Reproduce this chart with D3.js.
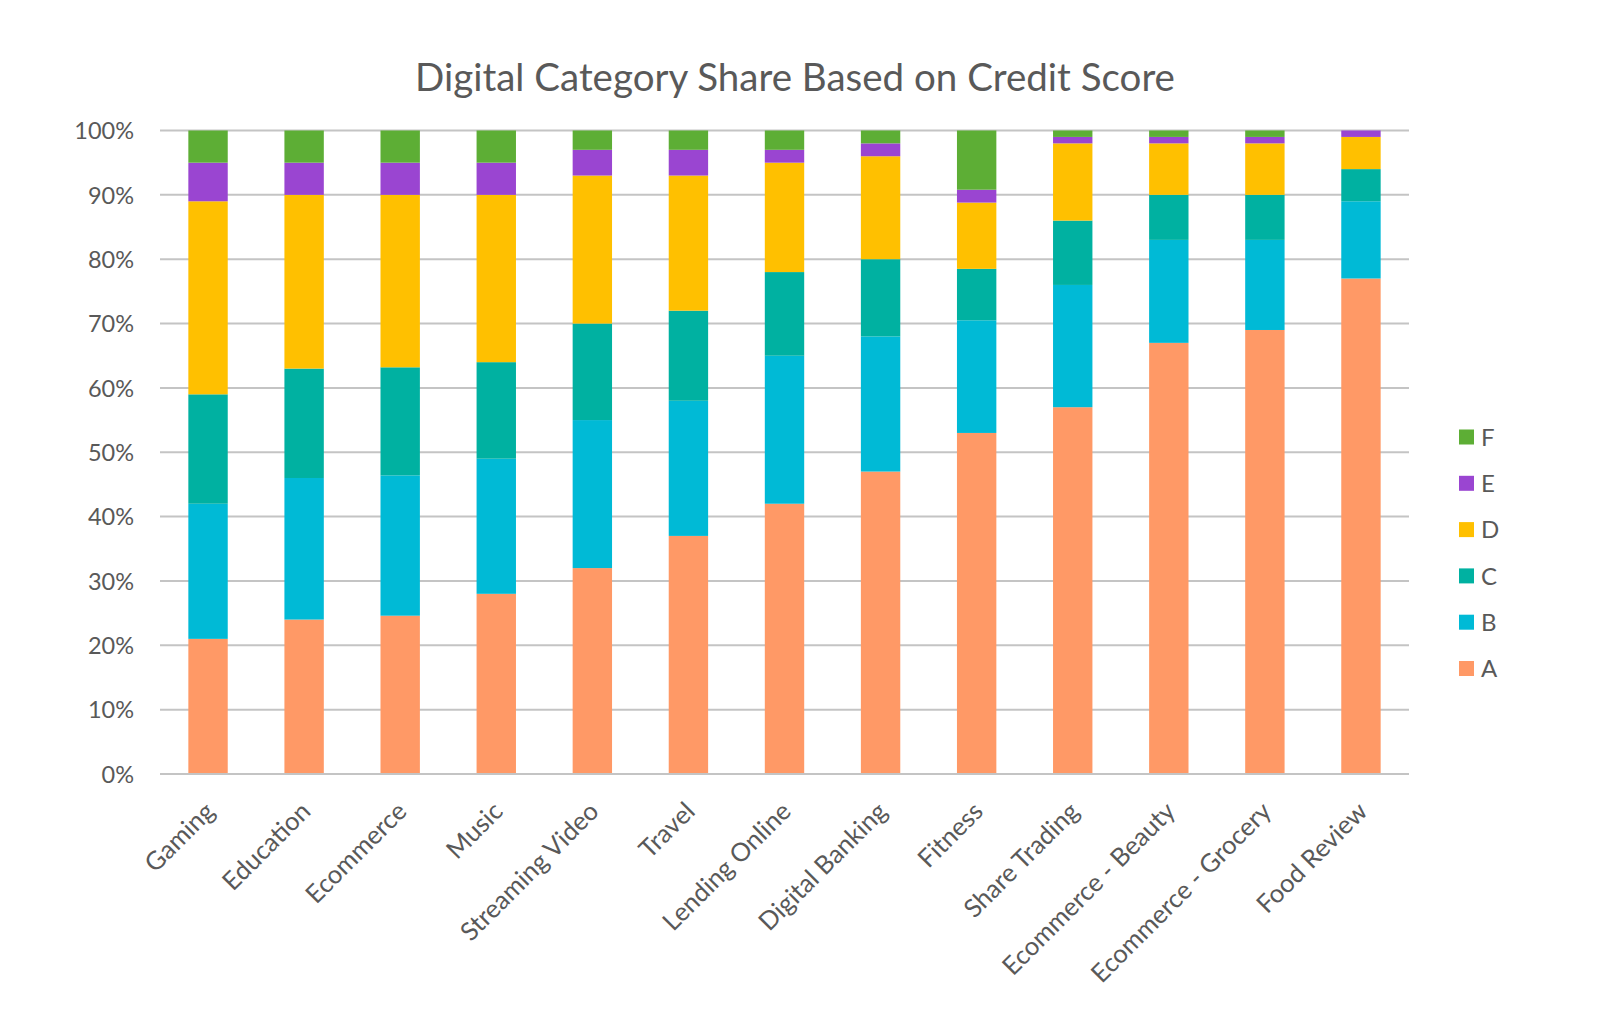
<!DOCTYPE html>
<html><head><meta charset="utf-8">
<script src="https://cdn.jsdelivr.net/npm/d3@7"></script>
<style>body{margin:0;background:#fff}svg{display:block}</style>
</head><body><svg id="c" width="1600" height="1020"></svg>
<script>
const categories = ["Gaming","Education","Ecommerce","Music","Streaming Video","Travel","Lending Online","Digital Banking","Fitness","Share Trading","Ecommerce - Beauty","Ecommerce - Grocery","Food Review"];
const seriesKeys = ["A","B","C","D","E","F"];
const seriesA = [21, 24, 24.6, 28, 32, 37, 42, 47, 53, 57, 67, 69, 77];
const seriesB = [21, 22, 21.8, 21, 23, 21, 23, 21, 17.5, 19, 16, 14, 12];
const seriesC = [17, 17, 16.8, 15, 15, 14, 13, 12, 8, 10, 7, 7, 5];
const seriesD = [30, 27, 26.8, 26, 23, 21, 17, 16, 10.3, 12, 8, 8, 5];
const seriesE = [6, 5, 5, 5, 4, 4, 2, 2, 2, 1, 1, 1, 1];
const seriesF = [5, 5, 5, 5, 3, 3, 3, 2, 9.2, 1, 1, 1, 0];
const yTicks = [0,10,20,30,40,50,60,70,80,90,100];
const title = "Digital Category Share Based on Credit Score";

const colors = {A:"#FF9966",B:"#00BAD6",C:"#00B1A1",D:"#FFC000",E:"#9A45D1",F:"#5DAE35"};
const seriesVals = {A:seriesA,B:seriesB,C:seriesC,D:seriesD,E:seriesE,F:seriesF};
const table = categories.map((c,i)=>{const o={cat:c};seriesKeys.forEach(k=>o[k]=seriesVals[k][i]);return o;});

const svg = d3.select("#c");
const font = "Lato, 'Open Sans', sans-serif";
const txt = "#595959";
const L=160, R=1409, T=130.5, B=774;

const x = d3.scaleBand().domain(categories).range([L,R]).paddingInner(0.59).paddingOuter(0.295);
const y = d3.scaleLinear().domain([0,100]).range([B,T]);

// gridlines
svg.append("g").selectAll("line").data(yTicks).join("line")
  .attr("x1",L).attr("x2",R).attr("y1",d=>y(d)).attr("y2",d=>y(d))
  .attr("stroke","#C4C4C4").attr("stroke-width",2);

// y axis labels
const yAxis = d3.axisLeft(y).tickValues(yTicks).tickFormat(d=>d+"%").tickSize(0).tickPadding(0);
const ya = svg.append("g").attr("transform",`translate(${L-26},0)`).call(yAxis);
ya.select(".domain").remove();
ya.selectAll("text").attr("font-family",font).attr("font-size",23.5).attr("fill",txt).attr("dy","0.35em");

// stacks
const stack = d3.stack().keys(seriesKeys)(table);
svg.append("g").selectAll("g").data(stack).join("g").attr("fill",d=>colors[d.key])
  .selectAll("rect").data(d=>d).join("rect")
  .attr("x",d=>x(d.data.cat)).attr("width",x.bandwidth())
  .attr("y",d=>y(d[1])).attr("height",d=>Math.max(0,y(d[0])-y(d[1])));

// x axis line
svg.append("line").attr("x1",L).attr("x2",R).attr("y1",B).attr("y2",B).attr("stroke","#C4C4C4").attr("stroke-width",2);

// x labels
const xAxis = d3.axisBottom(x).tickSize(0).tickPadding(0);
const xa = svg.append("g").attr("transform",`translate(0,${B})`).call(xAxis);
xa.select(".domain").remove();
xa.selectAll("text").attr("font-family",font).attr("font-size",25.5).attr("fill",txt)
  .attr("text-anchor","end").attr("dy",0).attr("y",0)
  .attr("transform","translate(8,39) rotate(-45)");

// title
svg.append("text").attr("x",795).attr("y",91).attr("text-anchor","middle")
  .attr("font-family",font).attr("font-size",38.5).attr("fill",txt).text(title);

// legend
const legKeys = seriesKeys.slice().reverse();
const lg = svg.append("g").selectAll("g").data(legKeys).join("g")
  .attr("transform",(d,i)=>`translate(1459,${437+i*46.3})`);
lg.append("rect").attr("x",0).attr("y",-7.5).attr("width",15).attr("height",15).attr("fill",d=>colors[d]);
lg.append("text").attr("x",22).attr("dy","0.36em").attr("font-family",font).attr("font-size",24).attr("fill",txt).text(d=>d);
</script></body></html>
